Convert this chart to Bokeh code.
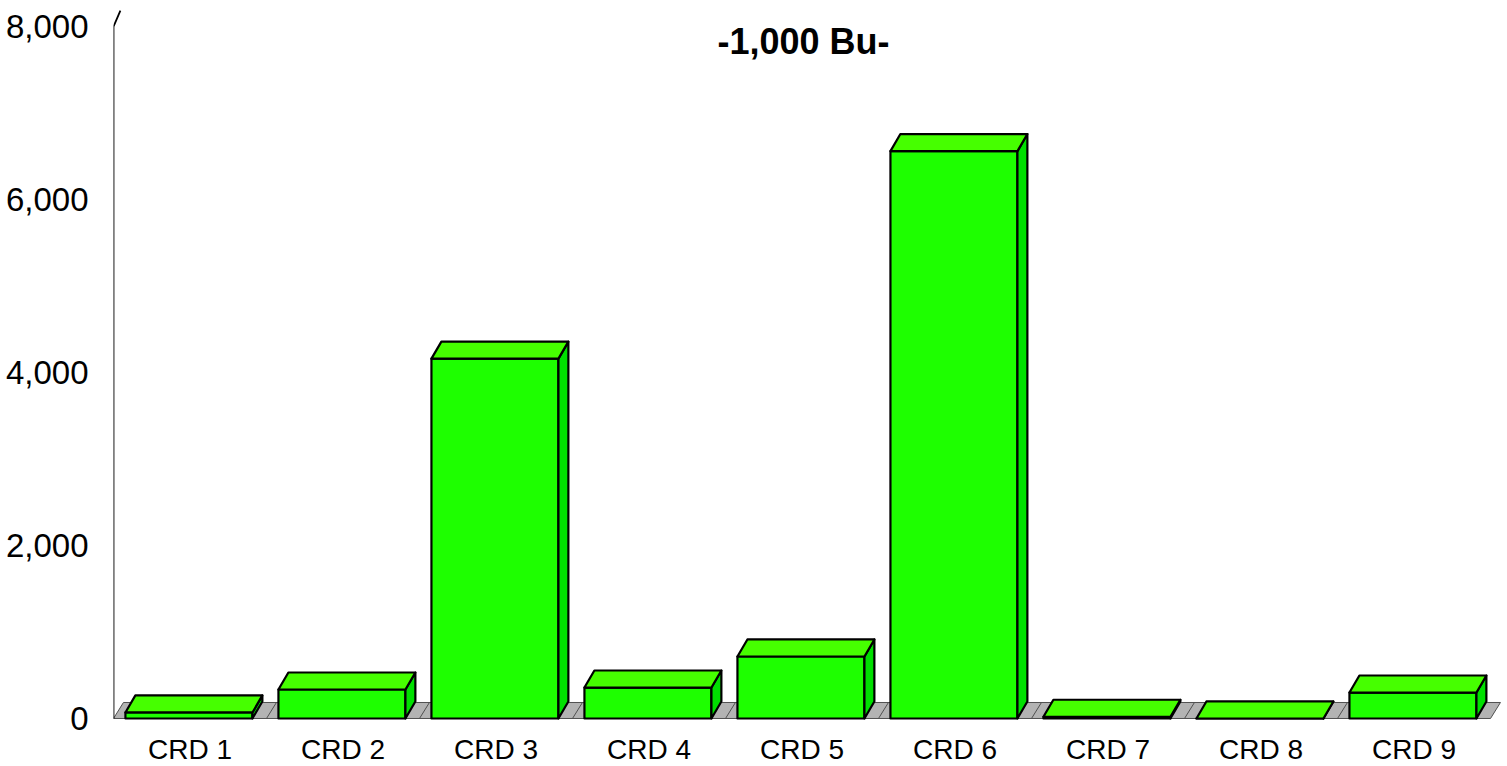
from bokeh.plotting import figure
from bokeh.models import Range1d, FixedTicker, Label
from bokeh.embed import file_html
from bokeh.resources import INLINE

# ---- data ----
categories = ["CRD 1", "CRD 2", "CRD 3", "CRD 4", "CRD 5", "CRD 6", "CRD 7", "CRD 8", "CRD 9"]
values = [70, 335, 4160, 358, 717, 6560, 20, 0, 300]
y_ticks = [0, 2000, 4000, 6000, 8000]
y_tick_labels = ["0", "2,000", "4,000", "6,000", "8,000"]
subtitle = "-1,000 Bu-"

# ---- styles / geometry ----
FONT = "Liberation Sans"
FRONT = "#1eff00"
TOP = "#46ff00"
SIDE = "#00e000"
FLOOR = "#b3b3b3"
gap = 0.078      # left gap inside a category
bw = 0.83        # bar width (category units)
dx = 0.065       # depth offset x (category units)
dy = 197         # depth offset y (value units)
fdx, fdy = 0.065, 185

W, H = 1507, 766
p = figure(width=W, height=H, output_backend="svg", toolbar_location=None,
           x_range=Range1d(0, 9.111), y_range=Range1d(-555, 8301),
           min_border_left=113, min_border_right=0, min_border_top=0, min_border_bottom=0,
           background_fill_color="white", border_fill_color="white")
p.grid.visible = False
p.outline_line_color = None

n = len(categories)

# floor
p.patch([0, n, n + fdx, fdx], [0, 0, fdy, fdy], fill_color=FLOOR, line_color="#505050", line_width=1)
sep_xs = [[i, i + fdx] for i in range(1, n)]
sep_ys = [[0, fdy] for _ in range(1, n)]
p.multi_line(sep_xs, sep_ys, line_color="#505050", line_width=1)

# wall / axis line
p.line([0, 0, 0.045], [0, y_ticks[-1], y_ticks[-1] + 185], line_color="black", line_width=1.8)

# bars
front_x, front_y, top_x, top_y, side_x, side_y = [], [], [], [], [], []
for i, v in enumerate(values):
    x0 = i + gap
    x1 = x0 + bw
    front_x.append([x0, x1, x1, x0]); front_y.append([0, 0, v, v])
    top_x.append([x0, x1, x1 + dx, x0 + dx]); top_y.append([v, v, v + dy, v + dy])
    side_x.append([x1, x1 + dx, x1 + dx, x1]); side_y.append([0, dy, v + dy, v])

for i in range(n):
    p.patch(front_x[i], front_y[i], fill_color=FRONT, line_color="black", line_width=2.2, line_join="round")
    p.patch(side_x[i], side_y[i], fill_color=SIDE, line_color="black", line_width=2.2, line_join="round")
    p.patch(top_x[i], top_y[i], fill_color=TOP, line_color="black", line_width=2.2, line_join="round")

# x axis (category labels)
centers = [i + 0.5 for i in range(n)]
xa = p.xaxis[0]
xa.fixed_location = 0
xa.ticker = FixedTicker(ticks=centers)
xa.major_label_overrides = {c: lab for c, lab in zip(centers, categories)}
xa.axis_line_color = None
xa.major_tick_line_color = None
xa.minor_tick_line_color = None
xa.major_tick_out = 0
xa.major_tick_in = 0
xa.major_label_standoff = 16
xa.major_label_text_font = FONT
xa.major_label_text_font_size = "28px"
xa.major_label_text_color = "black"

# y axis
ya = p.yaxis[0]
ya.ticker = FixedTicker(ticks=y_ticks)
ya.major_label_overrides = {t: lab for t, lab in zip(y_ticks, y_tick_labels)}
ya.axis_line_color = None
ya.major_tick_line_color = None
ya.minor_tick_line_color = None
ya.major_tick_out = 0
ya.major_tick_in = 0
ya.major_label_standoff = 25
ya.major_label_text_font = FONT
ya.major_label_text_font_size = "33px"
ya.major_label_text_color = "black"

# subtitle
p.add_layout(Label(x=4.51, y=7830, text=subtitle, text_align="center", text_baseline="middle",
                   text_font=FONT, text_font_style="bold", text_font_size="36px", text_color="black"))

open("out.html", "w").write(file_html(p, INLINE))
